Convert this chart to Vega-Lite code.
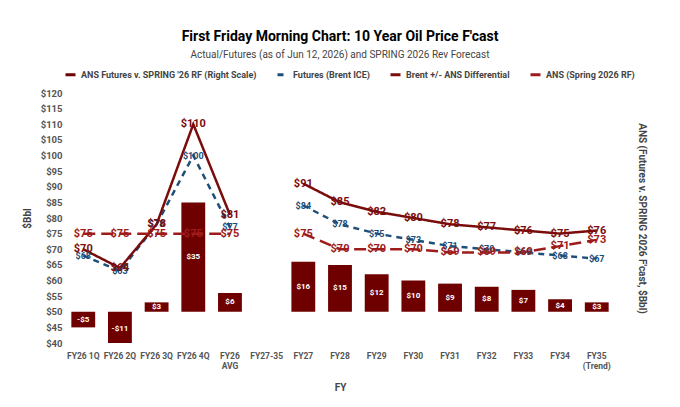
{
"$schema":"https://vega.github.io/schema/vega-lite/v6.json",
"width":552,"height":250,
"padding":{"left":22,"top":30,"right":12,"bottom":5},
"config":{"font":"Roboto","view":{"stroke":null},"axis":{"labelColor":"#555","titleColor":"#444","labelFontWeight":"bold","titleFontWeight":"bold","titleFontSize":10,"labelFontSize":9.5}},
"title":{"text":"First Friday Morning Chart: 10 Year Oil Price F'cast","subtitle":"Actual/Futures  (as of Jun 12, 2026) and SPRING 2026 Rev Forecast","fontSize":14,"subtitleFontSize":10,"subtitleColor":"#444","anchor":"middle","offset":8,"subtitlePadding":6},
"datasets":{
"bars":[
{"x":"FY26 1Q","series":"ANS Futures v. SPRING '26 RF (Right Scale)","v":-5,"lbl":"-$5"},
{"x":"FY26 2Q","series":"ANS Futures v. SPRING '26 RF (Right Scale)","v":-11,"lbl":"-$11"},
{"x":"FY26 3Q","series":"ANS Futures v. SPRING '26 RF (Right Scale)","v":3,"lbl":"$3"},
{"x":"FY26 4Q","series":"ANS Futures v. SPRING '26 RF (Right Scale)","v":35,"lbl":"$35"},
{"x":"FY26 AVG","series":"ANS Futures v. SPRING '26 RF (Right Scale)","v":6,"lbl":"$6"},
{"x":"FY27","series":"ANS Futures v. SPRING '26 RF (Right Scale)","v":16,"lbl":"$16"},
{"x":"FY28","series":"ANS Futures v. SPRING '26 RF (Right Scale)","v":15,"lbl":"$15"},
{"x":"FY29","series":"ANS Futures v. SPRING '26 RF (Right Scale)","v":12,"lbl":"$12"},
{"x":"FY30","series":"ANS Futures v. SPRING '26 RF (Right Scale)","v":10,"lbl":"$10"},
{"x":"FY31","series":"ANS Futures v. SPRING '26 RF (Right Scale)","v":9,"lbl":"$9"},
{"x":"FY32","series":"ANS Futures v. SPRING '26 RF (Right Scale)","v":8,"lbl":"$8"},
{"x":"FY33","series":"ANS Futures v. SPRING '26 RF (Right Scale)","v":7,"lbl":"$7"},
{"x":"FY34","series":"ANS Futures v. SPRING '26 RF (Right Scale)","v":4,"lbl":"$4"},
{"x":"FY35 (Trend)","series":"ANS Futures v. SPRING '26 RF (Right Scale)","v":3,"lbl":"$3"}],
"lines":[
{"x":"FY26 1Q","series":"Futures (Brent ICE)","v":68},{"x":"FY26 2Q","series":"Futures (Brent ICE)","v":63},{"x":"FY26 3Q","series":"Futures (Brent ICE)","v":78},{"x":"FY26 4Q","series":"Futures (Brent ICE)","v":100},{"x":"FY26 AVG","series":"Futures (Brent ICE)","v":77},{"x":"FY27-35","series":"Futures (Brent ICE)","v":null},
{"x":"FY27","series":"Futures (Brent ICE)","v":84},{"x":"FY28","series":"Futures (Brent ICE)","v":78},{"x":"FY29","series":"Futures (Brent ICE)","v":75},{"x":"FY30","series":"Futures (Brent ICE)","v":73},{"x":"FY31","series":"Futures (Brent ICE)","v":71},{"x":"FY32","series":"Futures (Brent ICE)","v":70},{"x":"FY33","series":"Futures (Brent ICE)","v":69},{"x":"FY34","series":"Futures (Brent ICE)","v":68},{"x":"FY35 (Trend)","series":"Futures (Brent ICE)","v":67},
{"x":"FY26 1Q","series":"Brent +/- ANS Differential","v":70},{"x":"FY26 2Q","series":"Brent +/- ANS Differential","v":64},{"x":"FY26 3Q","series":"Brent +/- ANS Differential","v":78},{"x":"FY26 4Q","series":"Brent +/- ANS Differential","v":110},{"x":"FY26 AVG","series":"Brent +/- ANS Differential","v":81},{"x":"FY27-35","series":"Brent +/- ANS Differential","v":null},
{"x":"FY27","series":"Brent +/- ANS Differential","v":91},{"x":"FY28","series":"Brent +/- ANS Differential","v":85},{"x":"FY29","series":"Brent +/- ANS Differential","v":82},{"x":"FY30","series":"Brent +/- ANS Differential","v":80},{"x":"FY31","series":"Brent +/- ANS Differential","v":78},{"x":"FY32","series":"Brent +/- ANS Differential","v":77},{"x":"FY33","series":"Brent +/- ANS Differential","v":76},{"x":"FY34","series":"Brent +/- ANS Differential","v":75},{"x":"FY35 (Trend)","series":"Brent +/- ANS Differential","v":76},
{"x":"FY26 1Q","series":"ANS (Spring 2026 RF)","v":75},{"x":"FY26 2Q","series":"ANS (Spring 2026 RF)","v":75},{"x":"FY26 3Q","series":"ANS (Spring 2026 RF)","v":75},{"x":"FY26 4Q","series":"ANS (Spring 2026 RF)","v":75},{"x":"FY26 AVG","series":"ANS (Spring 2026 RF)","v":75},{"x":"FY27-35","series":"ANS (Spring 2026 RF)","v":null},
{"x":"FY27","series":"ANS (Spring 2026 RF)","v":75},{"x":"FY28","series":"ANS (Spring 2026 RF)","v":70},{"x":"FY29","series":"ANS (Spring 2026 RF)","v":70},{"x":"FY30","series":"ANS (Spring 2026 RF)","v":70},{"x":"FY31","series":"ANS (Spring 2026 RF)","v":69},{"x":"FY32","series":"ANS (Spring 2026 RF)","v":69},{"x":"FY33","series":"ANS (Spring 2026 RF)","v":69},{"x":"FY34","series":"ANS (Spring 2026 RF)","v":71},{"x":"FY35 (Trend)","series":"ANS (Spring 2026 RF)","v":73}]
},
"encoding":{"x":{"field":"x","type":"nominal","sort":null,"scale":{"domain":["FY26 1Q","FY26 2Q","FY26 3Q","FY26 4Q","FY26 AVG","FY27-35","FY27","FY28","FY29","FY30","FY31","FY32","FY33","FY34","FY35 (Trend)"],"paddingInner":0.35,"paddingOuter":0.2},"axis":{"title":"FY","labelAngle":0,"domain":false,"ticks":false,"labelFontSize":8.5,"labelPadding":8,"titlePadding":12,"labelExpr":"datum.label=='FY26 AVG'?['FY26','AVG']:datum.label=='FY35 (Trend)'?['FY35','(Trend)']:datum.label"}},
"color":{"field":"series","type":"nominal","scale":{"domain":["ANS Futures v. SPRING '26 RF (Right Scale)","Futures (Brent ICE)","Brent +/- ANS Differential","ANS (Spring 2026 RF)"],"range":["#6e0000","#1f4e79","#7a0c0c","#9e1b1b"]},"legend":{"orient":"top","title":null,"direction":"horizontal","symbolType":"stroke","symbolStrokeWidth":3,"labelFontSize":9,"labelFontWeight":"bold","labelColor":"#444","labelLimit":0,"columnPadding":14,"offset":12}}},
"layer":[
{"layer":[
{"data":{"name":"bars"},"mark":{"type":"bar","clip":true},"encoding":{"y":{"field":"v","type":"quantitative","scale":{"domain":[-10,70],"nice":false},"axis":{"orient":"right","title":"ANS (Futures v. SPRING 2026 F'cast, $Bbl)","labels":false,"ticks":false,"domain":false,"grid":false,"titlePadding":20}},"y2":{"datum":0}}},
{"data":{"name":"bars"},"transform":[{"calculate":"datum.v/2","as":"mid"}],"mark":{"type":"text","fontSize":8,"fontWeight":"bold","baseline":"middle"},"encoding":{"y":{"field":"mid","type":"quantitative"},"text":{"field":"lbl"},"color":{"value":"white"}}}
]},
{"layer":[
{"data":{"name":"lines"},"mark":{"type":"line","strokeWidth":2.5},"encoding":{"y":{"field":"v","type":"quantitative","scale":{"domain":[40,120],"nice":false},"axis":{"title":"$Bbl","tickCount":16,"labelExpr":"'$'+datum.value","ticks":false,"domain":false,"gridColor":"#ddd","titlePadding":8}},"strokeDash":{"field":"series","type":"nominal","scale":{"domain":["ANS Futures v. SPRING '26 RF (Right Scale)","Futures (Brent ICE)","Brent +/- ANS Differential","ANS (Spring 2026 RF)"],"range":[[1,0],[6,5],[1,0],[12,6]]},"legend":null}}},
{"data":{"name":"lines"},"transform":[{"filter":"datum.v!=null"}],"mark":{"type":"text","fontWeight":"bold"},"encoding":{"y":{"field":"v","type":"quantitative"},"text":{"field":"v","type":"quantitative","format":"$.0f"},"size":{"condition":{"test":"datum.series=='Futures (Brent ICE)'","value":9},"value":11}}}
]}
],
"resolve":{"scale":{"y":"independent"}}
}
